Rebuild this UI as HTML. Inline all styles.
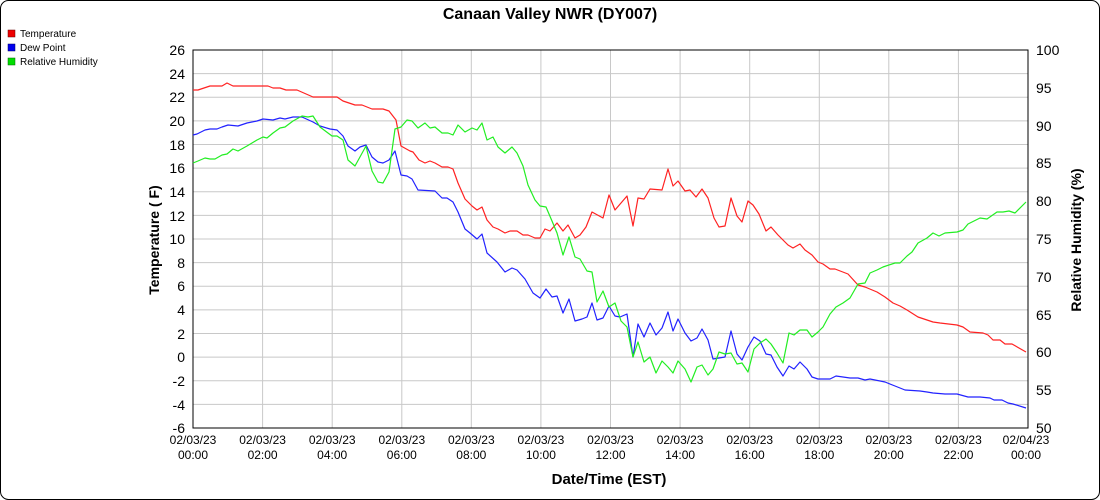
<!DOCTYPE html>
<html><head><meta charset="utf-8"><style>
html,body{margin:0;padding:0;background:#fff;}
svg{display:block;font-family:"Liberation Sans",sans-serif;}
</style></head><body>
<svg width="1100" height="500" viewBox="0 0 1100 500" xmlns="http://www.w3.org/2000/svg">
<rect x="0.5" y="0.5" width="1099" height="499" rx="8" fill="#fff" stroke="#000"/>
<text x="550" y="19" text-anchor="middle" font-size="16" font-weight="bold">Canaan Valley NWR (DY007)</text>
<g font-size="10">
<rect x="8" y="30" width="7" height="7" fill="#e00" stroke="#600" stroke-width="0.5"/><text x="20" y="37">Temperature</text>
<rect x="8" y="44" width="7" height="7" fill="#00e" stroke="#006" stroke-width="0.5"/><text x="20" y="51">Dew Point</text>
<rect x="8" y="58" width="7" height="7" fill="#0d0" stroke="#060" stroke-width="0.5"/><text x="20" y="65">Relative Humidity</text>
</g>
<g stroke="#c8c8c8" stroke-width="1">
<line x1="193" y1="73.6" x2="1028" y2="73.6"/><line x1="193" y1="97.3" x2="1028" y2="97.3"/><line x1="193" y1="120.9" x2="1028" y2="120.9"/><line x1="193" y1="144.5" x2="1028" y2="144.5"/><line x1="193" y1="168.1" x2="1028" y2="168.1"/><line x1="193" y1="191.8" x2="1028" y2="191.8"/><line x1="193" y1="215.4" x2="1028" y2="215.4"/><line x1="193" y1="239" x2="1028" y2="239"/><line x1="193" y1="262.6" x2="1028" y2="262.6"/><line x1="193" y1="286.3" x2="1028" y2="286.3"/><line x1="193" y1="309.9" x2="1028" y2="309.9"/><line x1="193" y1="333.5" x2="1028" y2="333.5"/><line x1="193" y1="357.1" x2="1028" y2="357.1"/><line x1="193" y1="380.8" x2="1028" y2="380.8"/><line x1="193" y1="404.4" x2="1028" y2="404.4"/>
<line x1="262.6" y1="50" x2="262.6" y2="428"/><line x1="332.2" y1="50" x2="332.2" y2="428"/><line x1="401.8" y1="50" x2="401.8" y2="428"/><line x1="471.3" y1="50" x2="471.3" y2="428"/><line x1="540.9" y1="50" x2="540.9" y2="428"/><line x1="610.5" y1="50" x2="610.5" y2="428"/><line x1="680.1" y1="50" x2="680.1" y2="428"/><line x1="749.7" y1="50" x2="749.7" y2="428"/><line x1="819.3" y1="50" x2="819.3" y2="428"/><line x1="888.8" y1="50" x2="888.8" y2="428"/><line x1="958.4" y1="50" x2="958.4" y2="428"/>
</g>
<rect x="193" y="50" width="835" height="378" fill="none" stroke="#000"/>
<g font-size="14" text-anchor="end">
<text x="185" y="55">26</text><text x="185" y="79">24</text><text x="185" y="102">22</text><text x="185" y="126">20</text><text x="185" y="150">18</text><text x="185" y="173">16</text><text x="185" y="197">14</text><text x="185" y="221">12</text><text x="185" y="244">10</text><text x="185" y="268">8</text><text x="185" y="291">6</text><text x="185" y="315">4</text><text x="185" y="339">2</text><text x="185" y="362">0</text><text x="185" y="386">-2</text><text x="185" y="410">-4</text><text x="185" y="433">-6</text>
</g>
<g font-size="14">
<text x="1036" y="55">100</text><text x="1036" y="93">95</text><text x="1036" y="131">90</text><text x="1036" y="168">85</text><text x="1036" y="206">80</text><text x="1036" y="244">75</text><text x="1036" y="282">70</text><text x="1036" y="320">65</text><text x="1036" y="357">60</text><text x="1036" y="395">55</text><text x="1036" y="433">50</text>
</g>
<g font-size="12" text-anchor="middle">
<text x="193" y="444">02/03/23</text><text x="193" y="459">00:00</text>
<text x="262.6" y="444">02/03/23</text><text x="262.6" y="459">02:00</text>
<text x="332.2" y="444">02/03/23</text><text x="332.2" y="459">04:00</text>
<text x="401.8" y="444">02/03/23</text><text x="401.8" y="459">06:00</text>
<text x="471.3" y="444">02/03/23</text><text x="471.3" y="459">08:00</text>
<text x="540.9" y="444">02/03/23</text><text x="540.9" y="459">10:00</text>
<text x="610.5" y="444">02/03/23</text><text x="610.5" y="459">12:00</text>
<text x="680.1" y="444">02/03/23</text><text x="680.1" y="459">14:00</text>
<text x="749.7" y="444">02/03/23</text><text x="749.7" y="459">16:00</text>
<text x="819.3" y="444">02/03/23</text><text x="819.3" y="459">18:00</text>
<text x="888.8" y="444">02/03/23</text><text x="888.8" y="459">20:00</text>
<text x="958.4" y="444">02/03/23</text><text x="958.4" y="459">22:00</text>
<text x="1026" y="444">02/04/23</text><text x="1026" y="459">00:00</text>
</g>
<text x="609" y="484" text-anchor="middle" font-size="15" font-weight="bold">Date/Time (EST)</text>
<text transform="translate(159,240) rotate(-90)" text-anchor="middle" font-size="14" font-weight="bold">Temperature ( F)</text>
<text transform="translate(1081,240) rotate(-90)" text-anchor="middle" font-size="14" font-weight="bold">Relative Humidity (%)</text>
<g fill="none" stroke-width="1.2" stroke-linejoin="round">
<polyline stroke="#f22" points="193,90 198,90 210,86 222,86 227,83 233,86 268,86 273,88 280,88 286,90 297,90 313,97 337,97 343,101 355,105 362,105 372,109 383,109 389,111 396,120 401,146 410,151 413,152 419,160 425,163 430,161 435,163 442,167 448,167 453,169 458,183 465,199 472,206 477,210 482,207 487,220 493,227 498,229 505,233 510,231 517,231 523,235 528,235 535,238 540,238 545,229 550,231 557,223 563,231 568,225 575,238 580,235 586,227 592,212 603,218 609,195 615,210 627,196 633,226 638,198 644,199 650,189 662,190 668,169 673,186 678,181 685,191 690,190 696,197 702,189 708,198 714,218 719,227 725,226 731,198 737,216 742,222 748,201 753,205 759,214 766,231 771,227 778,235 788,245 793,248 800,244 805,250 812,255 818,262 823,264 830,269 835,269 848,274 858,285 865,287 877,292 885,297 893,303 900,306 907,310 918,317 933,322 940,323 957,325 963,327 970,332 983,333 988,335 993,340 1000,340 1005,344 1012,344 1026,352"/>
<polyline stroke="#22f" points="193,135 197,134 205,130 210,129 217,129 222,127 228,125 238,126 247,123 257,121 263,119 273,120 280,118 285,119 293,117 302,117 313,122 320,126 330,129 337,130 343,136 348,146 355,151 360,147 366,145 372,157 378,162 383,163 389,160 395,151 401,175 407,176 412,179 418,190 435,191 442,198 447,198 453,202 458,212 465,229 470,233 477,239 482,234 487,253 497,262 505,272 512,268 517,270 525,279 533,293 540,298 546,289 552,297 557,296 563,313 569,299 575,321 582,319 587,317 592,303 597,320 603,318 609,306 615,316 620,317 627,314 633,357 638,324 644,337 650,323 656,335 662,328 668,312 673,331 678,319 685,333 691,341 697,338 702,329 708,340 713,359 725,357 731,331 737,354 742,360 748,347 754,337 760,341 766,354 771,355 777,367 783,376 789,366 794,369 800,362 807,369 812,377 818,379 830,379 836,376 843,377 850,378 858,378 865,380 870,379 885,382 895,386 905,390 920,391 927,392 933,393 945,394 957,394 968,397 973,397 980,397 990,398 994,400 1002,400 1008,403 1013,404 1026,408"/>
<polyline stroke="#2e2" points="193,163 198,161 205,158 210,159 215,159 222,155 227,154 233,149 238,151 247,146 257,140 263,137 267,138 273,133 280,128 285,127 293,121 302,116 308,117 313,116 320,127 332,136 337,136 343,140 348,160 355,166 366,146 372,171 378,182 383,183 389,172 395,129 401,127 407,120 412,121 418,128 425,123 430,128 435,127 442,133 448,133 453,135 458,125 465,132 472,128 477,130 482,123 487,140 493,137 498,147 505,153 512,147 517,153 523,166 528,185 535,200 540,206 546,207 552,221 557,233 563,255 569,237 575,257 580,259 587,271 592,272 597,302 603,291 609,307 615,303 621,321 627,327 633,357 638,342 644,362 650,357 656,373 662,361 668,367 673,373 678,361 685,369 691,382 697,367 702,365 708,375 713,369 719,352 725,354 731,353 737,364 742,363 748,372 754,349 760,343 766,339 771,344 777,353 783,363 789,333 794,335 800,330 807,330 812,337 818,332 823,327 830,314 836,307 843,303 850,298 858,284 865,283 870,273 877,270 883,267 895,263 900,263 907,256 912,252 918,243 927,238 933,233 939,236 945,233 957,232 963,230 968,224 980,218 987,219 997,212 1003,212 1009,211 1015,213 1026,202"/>
</g>
</svg>
</body></html>
